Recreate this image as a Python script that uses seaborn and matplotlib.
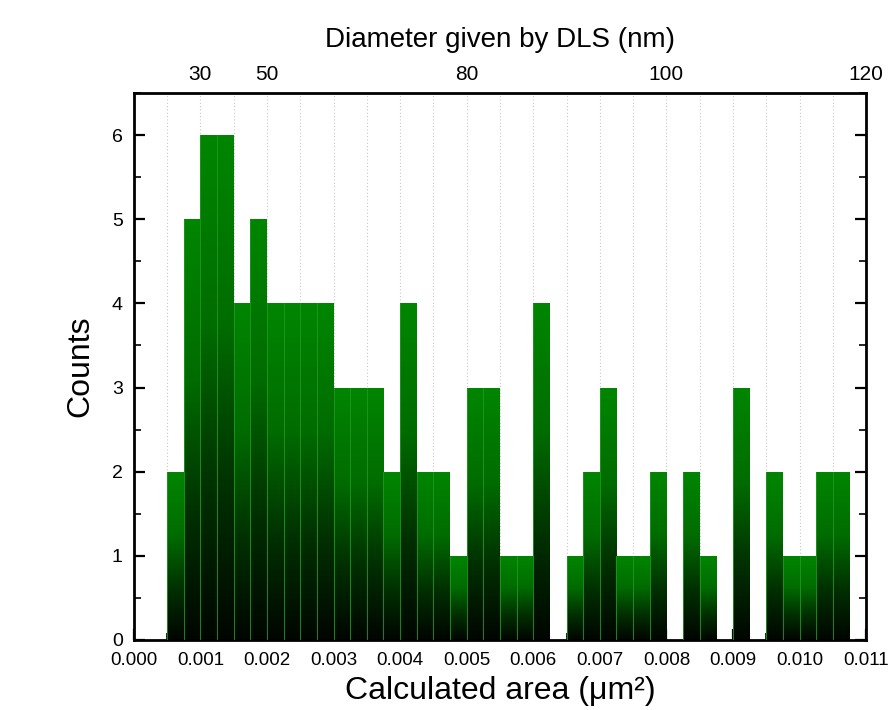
import matplotlib
matplotlib.use("Agg")
import matplotlib.pyplot as plt
import seaborn as sns
import numpy as np
import pandas as pd
from matplotlib.colors import LinearSegmentedColormap
from matplotlib.ticker import MultipleLocator, FormatStrFormatter

# histogram of calculated areas (um^2), bins of 0.00025 starting at 0.0005
bin_start = 0.0005
bin_width = 0.00025
counts = [2, 5, 6, 6, 4, 5, 4, 4, 4, 4, 3, 3, 3, 2, 4, 2, 2, 1, 3, 3, 1,
          1, 4, 0, 1, 2, 3, 1, 1, 2, 0, 2, 1, 0, 3, 0, 2, 1, 1, 2, 2]

# top axis: DLS diameter labels placed at area positions
dls_pos = [0.001, 0.002, 0.005, 0.008, 0.011]
dls_labels = ["30", "50", "80", "100", "120"]

edges = bin_start + bin_width * np.arange(len(counts) + 1)
df = pd.DataFrame({"area": (edges[:-1] + edges[1:]) / 2, "n": counts})

sns.set_theme(style="ticks")
plt.rcParams["font.family"] = ["Liberation Sans", "DejaVu Sans"]
plt.rcParams.update({"text.color": "black", "axes.labelcolor": "black",
                     "xtick.color": "black", "ytick.color": "black"})

fig = plt.figure(figsize=(8.92, 7.10), dpi=100)
ax = fig.add_axes([0.150, 0.0986, 0.821, 0.7704])

sns.histplot(data=df, x="area", weights="n", bins=edges.tolist(), ax=ax,
             color="#008000", alpha=1, edgecolor="none", linewidth=0)

cmap = LinearSegmentedColormap.from_list(
    "gr", [(0, "#000500"), (0.3, "#003000"), (0.62, "#006c00"), (1, "#008600")])
grad = np.linspace(0, 1, 256).reshape(-1, 1)
for p in list(ax.patches):
    x0, y0 = p.get_x(), p.get_y()
    w, h = p.get_width(), p.get_height()
    p.set_facecolor("none")
    if h <= 0:
        continue
    im = ax.imshow(grad, cmap=cmap, origin="lower", aspect="auto",
                   extent=[x0, x0 + w, y0, y0 + h], zorder=2)
    im.set_clip_path(p)
    ax.plot([x0, x0], [0, h], color="#1f9a1f", lw=0.6, zorder=3)

ax.set_xlim(0, 0.011)
ax.set_ylim(0, 6.5)

ax.xaxis.set_major_locator(MultipleLocator(0.001))
ax.xaxis.set_minor_locator(MultipleLocator(0.0005))
ax.xaxis.set_major_formatter(FormatStrFormatter("%.3f"))
ax.yaxis.set_major_locator(MultipleLocator(1))
ax.yaxis.set_minor_locator(MultipleLocator(0.5))

ax.grid(True, axis="x", which="both", linestyle=(0, (1, 2)), color="#c8c8c8", lw=0.8)
ax.set_axisbelow(True)

ax.tick_params(axis="x", which="both", direction="in", bottom=False, top=True,
               labelsize=13.5, pad=9)
ax.tick_params(axis="x", which="major", length=8, width=1.6)
ax.tick_params(axis="x", which="minor", length=5, width=1.2)
ax.tick_params(axis="y", which="both", direction="in", left=True, right=True,
               labelsize=14, pad=8)
ax.tick_params(axis="y", which="major", length=8, width=1.6)
ax.tick_params(axis="y", which="minor", length=5, width=1.2)
for s in ax.spines.values():
    s.set_linewidth(2)
    s.set_color("black")

ax.set_xlabel("Calculated area (\u03bcm\u00b2)", fontsize=23, labelpad=5)
ax.set_ylabel("Counts", fontsize=23, labelpad=12)

ax2 = ax.twiny()
ax2.set_xlim(ax.get_xlim())
ax2.set_xticks(dls_pos)
ax2.set_xticklabels(dls_labels)
ax2.tick_params(axis="x", length=0, labelsize=15, pad=6.5)
ax2.xaxis.set_minor_locator(plt.NullLocator())
for s in ax2.spines.values():
    s.set_visible(False)
ax2.set_xlabel("Diameter given by DLS (nm)", fontsize=20, labelpad=13)

fig.savefig("out.png", dpi=100)
